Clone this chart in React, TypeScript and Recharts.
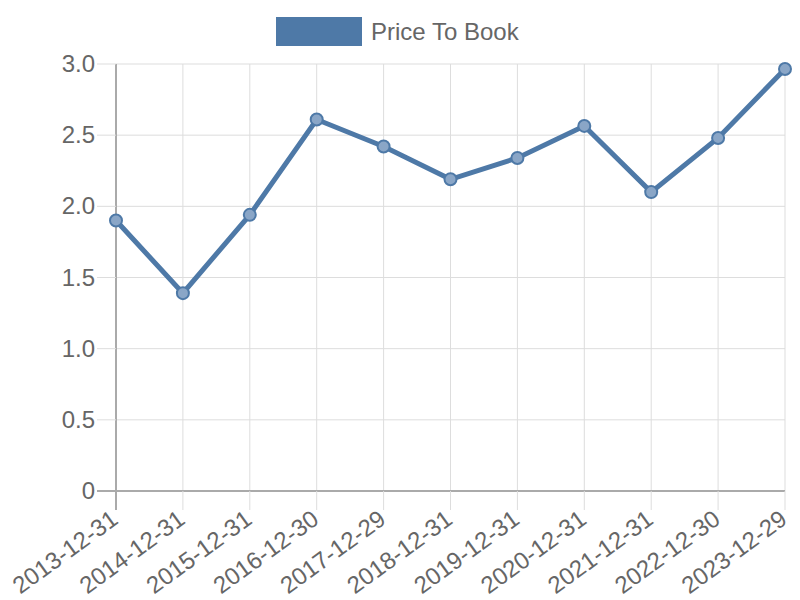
import React from 'react';
import { LineChart, Line, XAxis, YAxis, CartesianGrid, Legend } from 'recharts';

const categories = ['2013-12-31', '2014-12-31', '2015-12-31', '2016-12-30', '2017-12-29', '2018-12-31', '2019-12-31', '2020-12-31', '2021-12-31', '2022-12-30', '2023-12-29'];
const priceToBook = [1.9, 1.39, 1.94, 2.61, 2.42, 2.19, 2.34, 2.565, 2.1, 2.48, 2.965];
const yTicks = [0, 0.5, 1.0, 1.5, 2.0, 2.5, 3.0];

const data = categories.map((date, i) => ({ date, value: priceToBook[i] }));

const FONT = '"Liberation Sans", Arial, Helvetica, sans-serif';
const BLUE = '#4e79a7';
const TEXT = '#666666';
const GRID = '#dddddd';
const AXIS = '#aaaaaa';

const XTick = (props: any) => {
  const { x, y, payload, index } = props;
  return (
    <g>
      <line x1={x} x2={x} y1={y - 21} y2={y - 2} stroke={index === 0 ? AXIS : GRID} strokeWidth={index === 0 ? 2 : 1} />
      <g transform={`translate(${x - 4},${y})`}>
        <text
          transform="rotate(-36)"
          textAnchor="end"
          dy={13}
          fill={TEXT}
          fontSize={24}
          fontFamily={FONT}
        >
          {payload.value}
        </text>
      </g>
    </g>
  );
};

const YTick = (props: any) => {
  const { x, y, payload } = props;
  const isZero = payload.value === 0;
  return (
    <g>
      <line x1={x + 2} x2={x + 21} y1={y} y2={y} stroke={isZero ? AXIS : GRID} strokeWidth={isZero ? 2 : 1} />
      <text x={x} y={y} dy={8} textAnchor="end" fill={TEXT} fontSize={24} fontFamily={FONT}>
        {isZero ? '0' : payload.value.toFixed(1)}
      </text>
    </g>
  );
};

const LegendContent = () => (
  <div style={{ height: 64, width: 800, position: 'relative', fontFamily: FONT }}>
    <div style={{ position: 'absolute', left: 276, top: 17, width: 86, height: 29, background: BLUE }} />
    <div style={{ position: 'absolute', left: 371, top: 17, height: 29, lineHeight: '29px', fontSize: 24, color: TEXT, whiteSpace: 'nowrap' }}>
      Price To Book
    </div>
  </div>
);

export default function App() {
  return (
    <div style={{ position: 'absolute', left: 0, top: 0, width: 800, height: 600, background: '#fff' }}>
      <LineChart width={800} height={600} data={data} margin={{ top: 0, right: 15, bottom: 0, left: 0 }}>
        <Legend verticalAlign="top" align="left" content={<LegendContent />} wrapperStyle={{ top: 0, left: 0, width: 800, height: 64 }} />
        <CartesianGrid stroke={GRID} strokeWidth={1} />
        <XAxis
          dataKey="date"
          height={109}
          tick={<XTick />}
          tickSize={19}
          tickLine={false}
          axisLine={{ stroke: AXIS, strokeWidth: 2 }}
          interval={0}
        />
        <YAxis
          width={116}
          domain={[0, 3]}
          ticks={yTicks}
          tickSize={19}
          tickMargin={2}
          tickLine={false}
          axisLine={{ stroke: AXIS, strokeWidth: 2 }}
          tick={<YTick />}
          interval={0}
        />
        <Line
          type="linear"
          dataKey="value"
          name="Price To Book"
          stroke={BLUE}
          strokeWidth={5}
          dot={{ r: 6, fill: '#8aa6c7', stroke: BLUE, strokeWidth: 2 }}
          activeDot={false}
          isAnimationActive={false}
        />
      </LineChart>
    </div>
  );
}
